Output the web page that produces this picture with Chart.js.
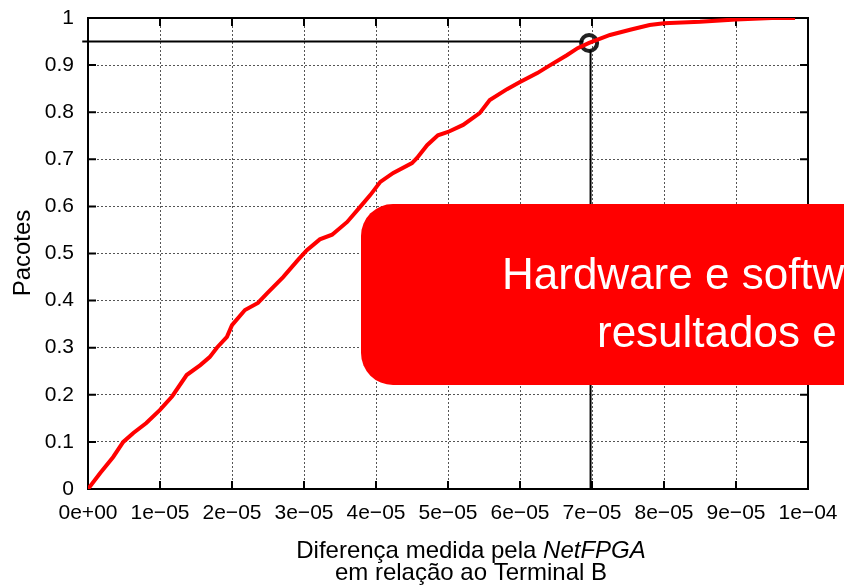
<!DOCTYPE html>
<html>
<head>
<meta charset="utf-8">
<script src="https://cdn.jsdelivr.net/npm/chart.js@4/dist/chart.umd.min.js"></script>
<style>
  body { margin: 0; background: #fff; }
  #wrap { width: 844px; height: 585px; position: relative; }
</style>
</head>
<body>
<div id="wrap"><canvas id="myChart"></canvas></div>
<script>
// CDF da diferenca medida (x em segundos, y = fracao de pacotes)
var cdfX = [0, 0.17e-5, 0.35e-5, 0.49e-5, 0.63e-5, 0.81e-5, 1.0e-5, 1.17e-5, 1.37e-5, 1.56e-5,
            1.69e-5, 1.79e-5, 1.93e-5, 2.0e-5, 2.18e-5, 2.36e-5, 2.49e-5, 2.71e-5, 2.92e-5, 3.04e-5,
            3.22e-5, 3.39e-5, 3.6e-5, 3.78e-5, 3.92e-5, 4.06e-5, 4.24e-5, 4.5e-5, 4.57e-5, 4.71e-5,
            4.86e-5, 5.0e-5, 5.21e-5, 5.44e-5, 5.58e-5, 5.82e-5, 6.0e-5, 6.24e-5, 6.42e-5, 6.65e-5,
            6.8e-5, 6.96e-5, 7.25e-5, 7.53e-5, 7.8e-5, 8.0e-5, 8.5e-5, 9.0e-5, 9.5e-5, 9.82e-5];
var cdfY = [0, 0.034, 0.068, 0.1, 0.119, 0.14, 0.168, 0.197, 0.242, 0.263,
            0.28, 0.30, 0.323, 0.348, 0.38, 0.395, 0.416, 0.45, 0.487, 0.507,
            0.53, 0.54, 0.567, 0.599, 0.624, 0.652, 0.671, 0.692, 0.703, 0.73,
            0.751, 0.758, 0.773, 0.798, 0.826, 0.849, 0.864, 0.883, 0.9, 0.921,
            0.936, 0.947, 0.964, 0.975, 0.985, 0.989, 0.992, 0.997, 1.0, 1.0];

var markX = [6.96e-5];
var markY = [0.947];
var hLineX = [-0.08e-5, 6.88e-5];
var hLineY = [0.95, 0.95];
var vLineX = [6.98e-5, 6.98e-5];
var vLineY = [0, 0.932];

var xTickLabels = ["0e+00", "1e\u221205", "2e\u221205", "3e\u221205", "4e\u221205", "5e\u221205",
                   "6e\u221205", "7e\u221205", "8e\u221205", "9e\u221205", "1e\u221204"];
var yTickLabels = ["0", "0.1", "0.2", "0.3", "0.4", "0.5", "0.6", "0.7", "0.8", "0.9", "1"];

var fontFam = '"Liberation Sans", Arial, sans-serif';

function pts(xs, ys) {
    var out = [];
    for (var i = 0; i < xs.length; i++) {
        out.push({ x: xs[i], y: ys[i] });
    }
    return out;
}

// moldura, marcas internas, titulos dos eixos e a caixa vermelha
var extras = {
    id: 'extras',
    beforeDatasetsDraw: function (chart) {
        var ctx = chart.ctx;
        var a = chart.chartArea;
        var sx = chart.scales.x, sy = chart.scales.y;
        ctx.save();
        ctx.strokeStyle = '#000';
        ctx.lineWidth = 2;
        ctx.strokeRect(a.left, a.top, a.right - a.left, a.bottom - a.top);
        ctx.beginPath();
        for (var i = 0; i < sx.ticks.length; i++) {
            var px = sx.getPixelForValue(sx.ticks[i].value);
            ctx.moveTo(px, a.bottom); ctx.lineTo(px, a.bottom - 8);
            ctx.moveTo(px, a.top); ctx.lineTo(px, a.top + 8);
        }
        for (var j = 0; j < sy.ticks.length; j++) {
            var py = sy.getPixelForValue(sy.ticks[j].value);
            ctx.moveTo(a.left, py); ctx.lineTo(a.left + 8, py);
            ctx.moveTo(a.right, py); ctx.lineTo(a.right - 8, py);
        }
        ctx.stroke();
        ctx.restore();
    },
    afterDraw: function (chart) {
        var ctx = chart.ctx;
        ctx.save();
        ctx.fillStyle = '#000';

        // titulo y
        ctx.save();
        ctx.translate(30, 253);
        ctx.rotate(-Math.PI / 2);
        ctx.font = '24px ' + fontFam;
        ctx.textAlign = 'center';
        ctx.textBaseline = 'alphabetic';
        ctx.fillText('Pacotes', 0, 0);
        ctx.restore();

        // titulo x (duas linhas, NetFPGA em italico)
        var t1 = 'Diferen\u00e7a medida pela ', t2 = 'NetFPGA';
        ctx.font = '24px ' + fontFam;
        var w1 = ctx.measureText(t1).width;
        ctx.font = 'italic 24px ' + fontFam;
        var w2 = ctx.measureText(t2).width;
        var cx = 471;
        var x0 = cx - (w1 + w2) / 2;
        ctx.textAlign = 'left';
        ctx.font = '24px ' + fontFam;
        ctx.fillText(t1, x0, 558);
        ctx.font = 'italic 24px ' + fontFam;
        ctx.fillText(t2, x0 + w1, 558);
        ctx.font = '24px ' + fontFam;
        ctx.textAlign = 'center';
        ctx.fillText('em rela\u00e7\u00e3o ao Terminal B', cx, 580);

        // caixa vermelha sobreposta
        var bx = 361, by = 204, bw = 560, bh = 181, r = 32;
        ctx.fillStyle = '#ff0000';
        ctx.beginPath();
        ctx.moveTo(bx + r, by);
        ctx.lineTo(bx + bw - r, by);
        ctx.arcTo(bx + bw, by, bx + bw, by + r, r);
        ctx.lineTo(bx + bw, by + bh - r);
        ctx.arcTo(bx + bw, by + bh, bx + bw - r, by + bh, r);
        ctx.lineTo(bx + r, by + bh);
        ctx.arcTo(bx, by + bh, bx, by + bh - r, r);
        ctx.lineTo(bx, by + r);
        ctx.arcTo(bx, by, bx + r, by, r);
        ctx.closePath();
        ctx.fill();

        ctx.fillStyle = '#fff';
        ctx.font = '44px ' + fontFam;
        ctx.textAlign = 'left';
        ctx.fillText('Hardware e software', 502, 289);
        ctx.fillText('resultados e', 597, 347);
        ctx.restore();
    }
};

new Chart("myChart", {
    type: "scatter",
    data: {
        datasets: [{
            data: pts(cdfX, cdfY),
            showLine: true,
            borderColor: '#ff0000',
            borderWidth: 4,
            pointRadius: 0,
            tension: 0
        }, {
            data: pts(hLineX, hLineY),
            showLine: true,
            borderColor: '#000',
            borderWidth: 2,
            pointRadius: 0,
            clip: false
        }, {
            data: pts(vLineX, vLineY),
            showLine: true,
            borderColor: '#000',
            borderWidth: 2,
            pointRadius: 0,
            clip: false
        }, {
            data: pts(markX, markY),
            pointRadius: 8,
            pointBorderWidth: 4,
            borderColor: '#222',
            backgroundColor: 'rgba(0,0,0,0)',
            clip: false
        }]
    },
    plugins: [extras],
    options: {
        responsive: true,
        maintainAspectRatio: false,
        animation: false,
        layout: { padding: { top: 18, right: 36, left: 0, bottom: 0 } },
        plugins: {
            legend: { display: false },
            tooltip: { enabled: false }
        },
        scales: {
            x: {
                type: 'linear',
                min: 0,
                max: 1e-4,
                afterFit: function (s) {
                    s.height = 96;
                    s.paddingLeft = 0;
                    s.paddingRight = 0;
                },
                ticks: {
                    stepSize: 1e-5,
                    padding: 12,
                    color: '#000',
                    maxRotation: 0,
                    autoSkip: false,
                    font: { family: fontFam, size: 21 },
                    callback: function (v, i) { return xTickLabels[i]; }
                },
                grid: { color: '#555', lineWidth: 1, drawTicks: false },
                border: { color: '#000', width: 2, dash: [2, 2] }
            },
            y: {
                min: 0,
                max: 1,
                afterFit: function (s) {
                    s.width = 88;
                    s.paddingTop = 0;
                    s.paddingBottom = 0;
                },
                ticks: {
                    stepSize: 0.1,
                    padding: 14,
                    color: '#000',
                    font: { family: fontFam, size: 21 },
                    callback: function (v, i) { return yTickLabels[i]; }
                },
                grid: { color: '#555', lineWidth: 1, drawTicks: false },
                border: { color: '#000', width: 2, dash: [2, 2] }
            }
        }
    }
});
</script>
</body>
</html>
